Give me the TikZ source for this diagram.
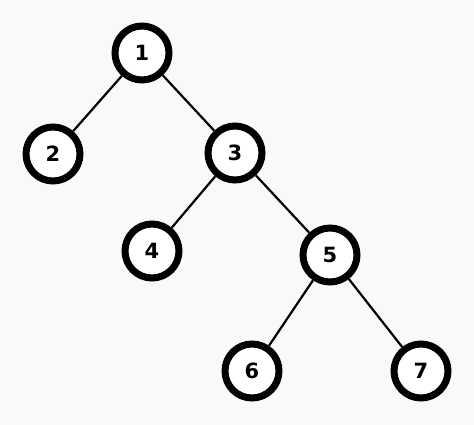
\documentclass[tikz,border=0pt]{standalone}
\usepackage{fontspec}
\setmainfont{DejaVu Sans}
\definecolor{bg}{HTML}{F9F9F9}
\begin{document}
\begin{tikzpicture}[x=1pt,y=-1pt,
  vert/.style={circle,draw=black,line width=7pt,fill=white,minimum size=54pt,inner sep=0pt,font=\fontsize{21}{21}\selectfont\bfseries},
  edge/.style={line width=2.2pt,black}]
\fill[bg] (0,0) rectangle (474,425);
\useasboundingbox (0,0) rectangle (474,425);
\node[vert] (n1) at (142,53) {1};
\node[vert] (n2) at (53,154) {2};
\node[vert] (n3) at (235,153) {3};
\node[vert] (n4) at (152,251) {4};
\node[vert] (n5) at (330,255) {5};
\node[vert] (n6) at (252,371) {6};
\node[vert] (n7) at (421,371) {7};
\draw[edge] (n1) -- (n2);
\draw[edge] (n1) -- (n3);
\draw[edge] (n3) -- (n4);
\draw[edge] (n3) -- (n5);
\draw[edge] (n5) -- (n6);
\draw[edge] (n5) -- (n7);
\end{tikzpicture}
\end{document}
